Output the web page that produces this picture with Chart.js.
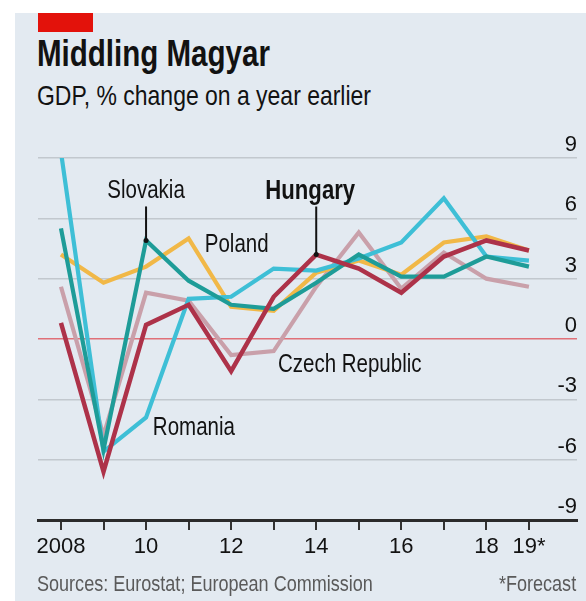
<!DOCTYPE html>
<html>
<head>
<meta charset="utf-8">
<title>Middling Magyar</title>
<script src="https://cdn.jsdelivr.net/npm/chart.js@4"></script>
<style>
    body { margin: 0; background: #ffffff; font-family: 'Liberation Sans', sans-serif; }
    #panel { position: absolute; left: 15px; top: 13px; width: 571px; height: 588px; background: #e3eaf1; }
    #redbar { position: absolute; left: 38px; top: 13px; width: 55px; height: 19px; background: #e3120b; }
    /* narrow the text to get close to the condensed house font */
    .txt { position: absolute; line-height: 1; white-space: nowrap; color: #121212; transform: scaleX(0.82); transform-origin: left top; }
    #title { left: 37px; top: 36px; font-size: 36px; font-weight: bold; }
    #subtitle { left: 37px; top: 82px; font-size: 28px; }
    #source { left: 37px; top: 573px; font-size: 22px; color: #5a5a5a; }
    #note { right: 10px; top: 573px; font-size: 22px; color: #5a5a5a; transform-origin: right top; }
    #chart { position: absolute; left: 0; top: 0; }
</style>
</head>
<body>
<div id="panel"></div>
<div id="redbar"></div>
<div class="txt" id="title">Middling Magyar</div>
<div class="txt" id="subtitle">GDP, % change on a year earlier</div>
<canvas id="chart" width="586" height="601"></canvas>
<div class="txt" id="source">Sources: Eurostat; European Commission</div>
<div class="txt" id="note">*Forecast</div>
<script>
// GDP, % change on a year earlier (2019 = forecast)
const years = [2008, 2009, 2010, 2011, 2012, 2013, 2014, 2015, 2016, 2017, 2018, 2019];
const hungary  = [0.8, -6.6, 0.7, 1.7, -1.6, 2.1, 4.2, 3.5, 2.3, 4.1, 4.9, 4.4];
const slovakia = [5.5, -5.5, 4.9, 2.9, 1.7, 1.5, 2.8, 4.2, 3.1, 3.1, 4.1, 3.6];
const romania  = [9.3, -5.6, -3.9, 2.0, 2.1, 3.5, 3.4, 4.0, 4.8, 7.0, 4.1, 3.9];
const poland   = [4.2, 2.8, 3.6, 5.0, 1.6, 1.4, 3.3, 3.9, 3.2, 4.8, 5.1, 4.4];
const czech    = [2.6, -4.8, 2.3, 1.9, -0.8, -0.6, 2.6, 5.3, 2.5, 4.3, 3.0, 2.6];
const yTicks = [-9, -6, -3, 0, 3, 6, 9];

const FONT = "'Liberation Sans', sans-serif";

function pts(vals) {
    return years.map((yr, i) => ({ x: yr, y: vals[i] }));
}

function line(label, vals, color, width) {
    return {
        label: label,
        data: pts(vals),
        borderColor: color,
        borderWidth: width,
        pointRadius: 0,
        tension: 0,
        borderJoinStyle: 'miter',
        fill: false
    };
}

// Series names written on the chart, anchored in data units
const labels = [
    { text: 'Slovakia', x: 2010, y: 4.9, dx: 0, dy: -42, align: 'center', size: 25, lead: [-34, 0] },
    { text: 'Hungary', x: 2014, y: 4.2, dx: -6, dy: -56, align: 'center', size: 27, bold: true, lead: [-48, 0] },
    { text: 'Poland', x: 2011.38, y: 4.33, dx: 0, dy: 0, align: 'left', size: 25 },
    { text: 'Czech Republic', x: 2013.1, y: -1.64, dx: 0, dy: 0, align: 'left', size: 25 },
    { text: 'Romania', x: 2010.16, y: -4.77, dx: 0, dy: 0, align: 'left', size: 25 }
];

const annotate = {
    id: 'annotate',
    afterDatasetsDraw(chart) {
        const ctx = chart.ctx;
        const xs = chart.scales.x, ys = chart.scales.y;
        labels.forEach(l => {
            const px = xs.getPixelForValue(l.x);
            const py = ys.getPixelForValue(l.y);
            ctx.save();
            if (l.lead) {
                ctx.strokeStyle = '#121212';
                ctx.lineWidth = 2;
                ctx.beginPath();
                ctx.moveTo(px, py + l.lead[0]);
                ctx.lineTo(px, py + l.lead[1]);
                ctx.stroke();
                ctx.fillStyle = '#121212';
                ctx.beginPath();
                ctx.arc(px, py, 2.5, 0, Math.PI * 2);
                ctx.fill();
            }
            ctx.translate(px + l.dx, py + l.dy);
            ctx.scale(0.82, 1);
            ctx.font = (l.bold ? 'bold ' : '') + l.size + 'px ' + FONT;
            ctx.fillStyle = '#121212';
            ctx.textAlign = l.align;
            ctx.textBaseline = 'alphabetic';
            ctx.fillText(l.text, 0, 0);
            ctx.restore();
        });
    }
};

new Chart(document.getElementById('chart'), {
    type: 'line',
    data: {
        datasets: [
            line('Hungary', hungary, '#ad3249', 4.5),
            line('Slovakia', slovakia, '#1e9c98', 4.2),
            line('Romania', romania, '#3ebfd6', 4.2),
            line('Poland', poland, '#f1b847', 4.2),
            line('Czech Republic', czech, '#c9a0aa', 4.2)
        ]
    },
    options: {
        responsive: false,
        animation: false,
        devicePixelRatio: 1,
        layout: { padding: { left: 38, top: 158, right: 0, bottom: 0 } },
        plugins: { legend: { display: false }, tooltip: { enabled: false } },
        scales: {
            x: {
                type: 'linear',
                min: 2007.46,
                max: 2020.13,
                afterBuildTicks: s => { s.ticks = years.map(v => ({ value: v })); },
                afterFit: s => { s.height = 81; },
                border: { display: true, color: '#2b2b2b', width: 3 },
                grid: { drawOnChartArea: false, drawTicks: true, tickLength: 10, color: '#333333', lineWidth: 2 },
                ticks: {
                    autoSkip: false,
                    maxRotation: 0,
                    padding: 4,
                    color: '#121212',
                    font: { family: FONT, size: 22 },
                    callback: v => v === 2008 ? '2008' : v === 2019 ? '19*' : (v % 2 === 0 ? String(v).slice(2) : '')
                }
            },
            y: {
                position: 'right',
                min: -9,
                max: 9,
                afterBuildTicks: s => { s.ticks = yTicks.map(v => ({ value: v })); },
                afterFit: s => { s.width = 9; },
                border: { display: false },
                grid: {
                    drawTicks: false,
                    lineWidth: 1.5,
                    color: c => c.tick.value === 0 ? '#e07078' : (c.tick.value === -9 ? 'rgba(0,0,0,0)' : '#c2c8ce')
                },
                ticks: {
                    mirror: true,
                    padding: 0,
                    labelOffset: -13,
                    color: '#121212',
                    font: { family: FONT, size: 22 },
                    callback: v => String(v)
                }
            }
        }
    },
    plugins: [annotate]
});
</script>
</body>
</html>
